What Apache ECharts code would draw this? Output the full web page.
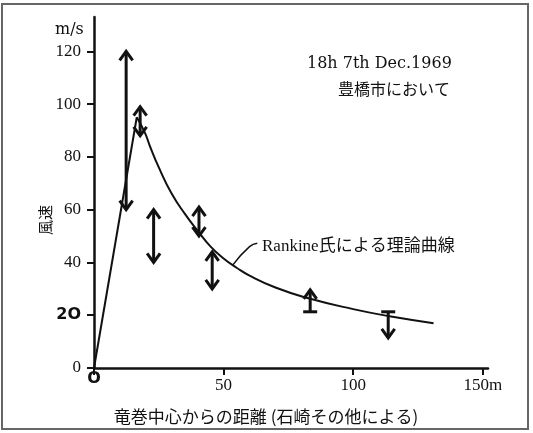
<!DOCTYPE html>
<html><head><meta charset="utf-8">
<script src="https://cdn.jsdelivr.net/npm/echarts@6/dist/echarts.min.js"></script>
<style>html,body{margin:0;padding:0;background:#fff}#c{width:533px;height:433px}</style>
</head><body><div id="c"></div>
<script>
// ---- data ----
const xTicks = [0, 50, 100, 150];
const yTicks = [0, 20, 40, 60, 80, 100, 120];
// Rankine curve (rising part and decaying part)
const riseX = [0, 16.5];
const riseY = [0, 95];
const curveX = [16.5, 19.7, 21.6, 25, 30, 35, 40, 45, 50, 55, 60, 70, 82, 100, 114, 131];
const curveY = [95, 89, 84, 76, 66, 58.5, 52, 46, 41.5, 38, 35, 30.5, 26.6, 22.3, 19.6, 17];
// observed ranges (arrows)
const arrowX = [12.4, 17.8, 23, 40.5, 45.6, 83.4, 113.5];
const arrowLow = [60, 88, 40, 50, 30, 21.3, 11.4];
const arrowHigh = [120, 99, 60, 61, 44, 29.6, 21.3];
const arrowKind = [0, 0, 0, 0, 0, 1, 2]; // 0 both heads, 1 up arrow from bar, 2 down arrow from bar
// leader line for the label
const leaderX = [53.5, 60, 63];
const leaderY = [39, 46, 47.3];

const serif = "'Liberation Serif', 'DejaVu Serif', serif";
const dserif = "'DejaVu Serif', serif";
const jp = "'Noto Sans CJK JP', sans-serif";
const mixed = "'Liberation Serif', 'Noto Sans CJK JP', serif";

const chart = echarts.init(document.getElementById('c'), null, {renderer: 'canvas'});

function pairs(xs, ys) { return xs.map((x, i) => [x, ys[i]]); }

function renderArrow(params, api) {
  const x = api.value(0), lo = api.value(1), hi = api.value(2), kind = api.value(3);
  const pLo = api.coord([x, lo]), pHi = api.coord([x, hi]);
  const cx = pLo[0];
  const st = {stroke: '#111', lineWidth: 3, fill: null, lineJoin: 'miter', lineCap: 'butt'};
  const hw = 6.5, hh = 9;
  const ch = [{type: 'line', shape: {x1: cx, y1: pLo[1], x2: cx, y2: pHi[1]}, style: st}];
  const up = y => ({type: 'polyline', shape: {points: [[cx - hw, y + hh], [cx, y], [cx + hw, y + hh]]}, style: st});
  const dn = y => ({type: 'polyline', shape: {points: [[cx - hw, y - hh], [cx, y], [cx + hw, y - hh]]}, style: st});
  const bar = y => ({type: 'line', shape: {x1: cx - 7, y1: y, x2: cx + 7, y2: y}, style: st});
  if (kind === 0) { ch.push(up(pHi[1])); ch.push(dn(pLo[1])); }
  else if (kind === 1) { ch.push(up(pHi[1])); ch.push(bar(pLo[1])); }
  else { ch.push(bar(pHi[1])); ch.push(dn(pLo[1])); }
  return {type: 'group', children: ch};
}

const option = {
  backgroundColor: '#ffffff',
  animation: false,
  grid: {left: 94, right: 45, top: 17, bottom: 65, containLabel: false},
  xAxis: {
    type: 'value', min: 0, max: 152, interval: 50,
    axisLine: {show: true, onZero: false, lineStyle: {color: '#111', width: 2.5}},
    axisTick: {show: true, length: 7, inside: false, customValues: xTicks, lineStyle: {color: '#111', width: 2}},
    axisLabel: {
      customValues: xTicks, margin: 9, color: '#111', fontFamily: serif, fontSize: 17,
      formatter: v => v === 0 ? '{o|O}' : (v === 150 ? '150m' : String(v)),
      rich: {o: {fontFamily: "'DejaVu Sans', sans-serif", fontWeight: 'bold', fontSize: 16, color: '#111', padding: [-6, 0, 0, 0]}}
    },
    splitLine: {show: false}
  },
  yAxis: {
    type: 'value', min: 0, max: 133, interval: 20,
    axisLine: {show: true, onZero: false, lineStyle: {color: '#111', width: 2.5}},
    axisTick: {show: true, length: 7, inside: false, customValues: yTicks, lineStyle: {color: '#111', width: 2}},
    axisLabel: {
      customValues: yTicks, margin: 13, color: '#111', fontFamily: serif, fontSize: 17,
      formatter: v => v === 20 ? '{b|2O}' : String(v),
      rich: {b: {fontFamily: "'DejaVu Sans', sans-serif", fontWeight: 'bold', fontSize: 16, color: '#111'}}
    },
    splitLine: {show: false}
  },
  graphic: [
    {type: 'rect', shape: {x: 2, y: 4, width: 526, height: 425}, style: {fill: null, stroke: '#666', lineWidth: 2}, silent: true},
    {type: 'text', left: 55, top: 22, style: {text: 'm/s', font: '16px ' + dserif, fill: '#111'}},
    {type: 'text', left: 307, top: 56, style: {text: '18h 7th Dec.1969', font: '16px ' + dserif, fill: '#111'}},
    {type: 'text', left: 338, top: 81, style: {text: '豊橋市において', font: '16px ' + jp, fill: '#111'}},
    {type: 'text', left: 262, top: 238, style: {text: 'Rankine氏による理論曲線', font: '17px ' + mixed, fill: '#111'}},
    {type: 'text', x: 266, y: 417, style: {text: '竜巻中心からの距離 (石崎その他による)', font: '17px ' + jp, fill: '#111', align: 'center', verticalAlign: 'middle'}},
    {type: 'text', x: 45, y: 220, rotation: Math.PI / 2, style: {text: '風速', font: '15px ' + jp, fill: '#111', align: 'center', verticalAlign: 'middle'}}
  ],
  series: [
    {type: 'line', data: pairs(riseX, riseY), showSymbol: false, symbol: 'none', lineStyle: {color: '#111', width: 2}, z: 3},
    {type: 'line', data: pairs(curveX, curveY), smooth: 0.5, showSymbol: false, symbol: 'none', lineStyle: {color: '#111', width: 2}, z: 3},
    {type: 'line', data: pairs(leaderX, leaderY), smooth: 0.5, showSymbol: false, symbol: 'none', lineStyle: {color: '#111', width: 1.5}, z: 3},
    {type: 'custom', renderItem: renderArrow, data: arrowX.map((x, i) => [x, arrowLow[i], arrowHigh[i], arrowKind[i]]), z: 4}
  ]
};
chart.setOption(option);
</script>
</body></html>
